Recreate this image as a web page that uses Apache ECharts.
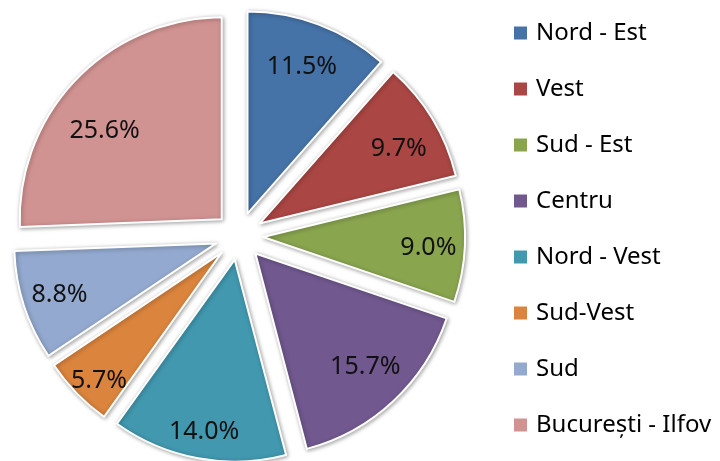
<!DOCTYPE html>
<html><head><meta charset="utf-8">
<script src="https://cdn.jsdelivr.net/npm/echarts@6/dist/echarts.min.js"></script>
<style>html,body{margin:0;padding:0;background:#fff}#c{width:720px;height:461px}</style>
</head><body><div id="c"></div>
<script>
var categories = ['Nord - Est','Vest','Sud - Est','Centru','Nord - Vest','Sud-Vest','Sud','București - Ilfov'];
var values = [11.5, 9.7, 9.0, 15.7, 14.0, 5.7, 8.8, 25.6];
var colors = ['#4572A7','#AA4643','#89A54E','#71588F','#4198AF','#DB843D','#93A9CF','#D19392'];

// label fine-tuning (style only), mimicking the spreadsheet's best-fit label placement
var labelNudge = [[-3,5],[0,9],[3,4],[-1,-6],[-1,12],[-6,15],[-2,1],[0,24]];

var font = 'Noto Sans';
var R = 202, OFF = 24, C = [239, 236];
var pieData = categories.map(function(n,i){ return {name:n, value:values[i], selected:true, itemStyle:{color:colors[i]}}; });
var labelData = categories.map(function(n,i){ return {name:n, value:values[i], selected:true}; });

var chart = echarts.init(document.getElementById('c'), null, {renderer:'canvas'});
chart.setOption({
  animation:false,
  legend:{
    orient:'vertical', left:512, top:21, padding:0,
    itemWidth:15, itemHeight:15, itemGap:32, icon:'rect',
    data: categories.map(function(n,i){ return {name:n, itemStyle:{color:colors[i]}}; }),
    textStyle:{fontFamily:font, fontSize:24, lineHeight:24, color:'#000', padding:[0,0,0,3]},
    selectedMode:false
  },
  series:[{
    type:'pie', center:C, radius:[0,R], startAngle:90, clockwise:true,
    selectedMode:'multiple', selectedOffset:OFF,
    label:{show:false}, labelLine:{show:false},
    itemStyle:{borderColor:'#fff', borderWidth:2, shadowBlur:4, shadowColor:'rgba(0,0,0,0.35)', shadowOffsetX:1, shadowOffsetY:1},
    emphasis:{disabled:true}, select:{disabled:false, itemStyle:{borderColor:'#fff', borderWidth:2}},
    data: pieData, silent:true
  },{
    type:'pie', center:C, radius:[0,R*1.58], startAngle:90, clockwise:true,
    selectedMode:'multiple', selectedOffset:OFF,
    itemStyle:{color:'rgba(0,0,0,0)'}, legendHoverLink:false,
    label:{show:true, position:'inside', formatter:function(p){return p.value.toFixed(1)+'%';}, fontFamily:font, fontSize:25, color:'#111'},
    labelLayout:function(p){ var d = labelNudge[p.dataIndex]; return {dx:d[0], dy:d[1]}; },
    labelLine:{show:false}, emphasis:{disabled:true}, silent:true,
    data: labelData
  }]
});
</script></body></html>
